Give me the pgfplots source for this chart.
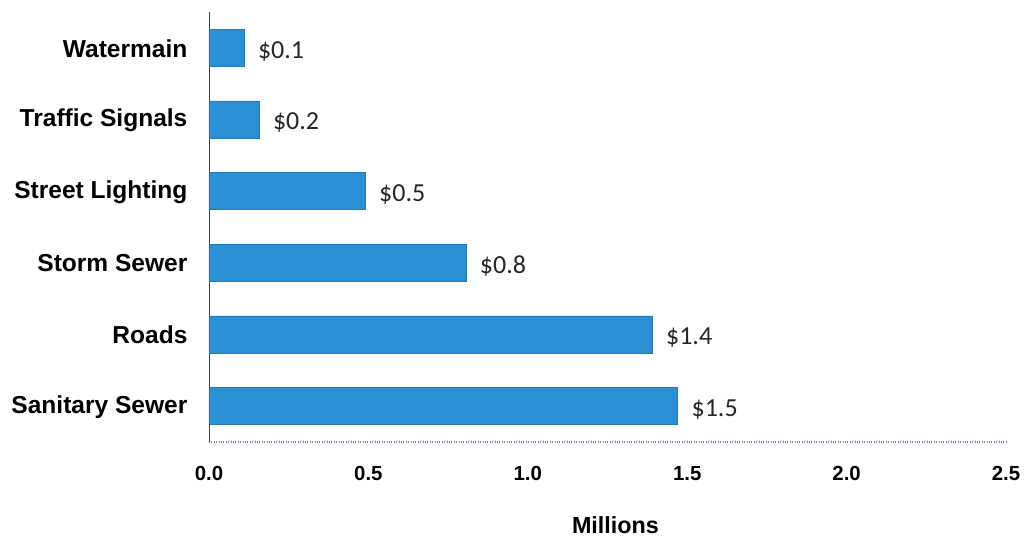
\documentclass[border=0pt]{standalone}
\usepackage{pgfplots}
\pgfplotsset{compat=1.18}
\usepackage{fontspec}
\setmainfont{Liberation Sans}
\newfontfamily\calib{Carlito}
\definecolor{barblue}{RGB}{43,143,214}
\definecolor{axisgray}{RGB}{100,140,175}
\begin{document}
\begin{tikzpicture}[x=1pt,y=1pt]
\useasboundingbox (0,0) rectangle (768.75,403.5);
\begin{axis}[
  at={(156.75pt,72pt)}, anchor=south west,
  scale only axis, width=597.75pt, height=322.5pt,
  xbar, bar width=27.75pt,
  xmin=0, xmax=2.5, ymin=-0.5, ymax=5.5,
  xtick={0,0.5,1,1.5,2,2.5},
  ytick={0,1,2,3,4,5},
  yticklabels={Sanitary Sewer,Roads,Storm Sewer,Street Lighting,Traffic Signals,Watermain},
  major tick length=0pt,
  axis x line*=bottom, axis y line*=left,
  x axis line style={draw=axisgray, densely dotted, line width=0.8pt, -},
  y axis line style={draw=black!75, line width=0.6pt, -},
  /pgf/number format/assume math mode=true,
  /pgf/number format/.cd, fixed, fixed zerofill, precision=1, /pgfplots/.cd,
  xticklabel style={font=\fontsize{15.3}{18}\selectfont\bfseries, inner sep=0pt, yshift=-18pt, anchor=north},
  yticklabel style={font=\fontsize{18.4}{22}\selectfont\bfseries, inner sep=0pt, xshift=-16pt, anchor=east, yshift=-0.5pt},
  xlabel={Millions},
  xlabel style={font=\fontsize{17.5}{21}\selectfont\bfseries, at={(axis description cs:0.51,0)}, anchor=base, yshift=-69pt},
  point meta=explicit symbolic,
  nodes near coords,
  every node near coord/.append style={font=\calib\fontsize{19.5}{22}\selectfont, color=black!85, anchor=west, xshift=7pt, yshift=-2.5pt},
  clip=false,
]
\addplot[fill=barblue, draw=barblue!85!black, line width=0.3pt] table[x=x, y=y, meta=lab] {
x y lab
1.470 0 \$1.5
1.390 1 \$1.4
0.806 2 \$0.8
0.490 3 \$0.5
0.157 4 \$0.2
0.110 5 \$0.1
};
\end{axis}
\end{tikzpicture}
\end{document}
